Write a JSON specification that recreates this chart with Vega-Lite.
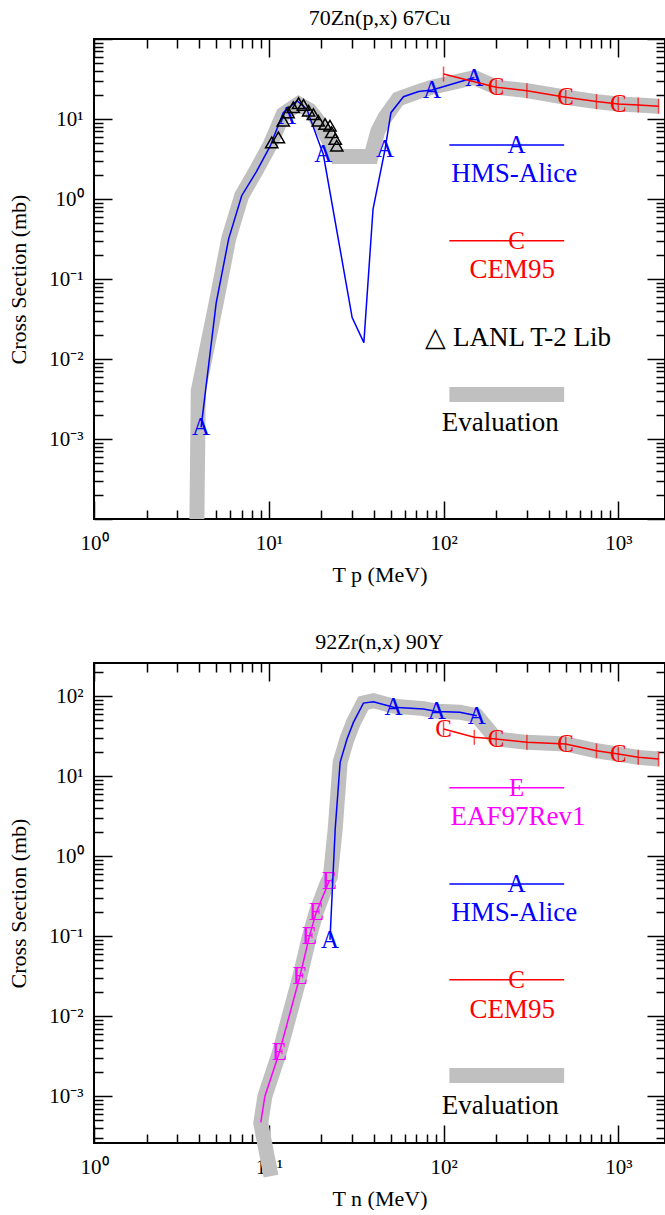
{
  "$schema": "https://vega.github.io/schema/vega-lite/v6.json",
  "padding": {"left": 6, "top": 6, "right": 0, "bottom": 0},
  "spacing": 44,
  "config": {
    "font": "Liberation Serif",
    "view": {"stroke": "black", "strokeWidth": 2},
    "text": {"font": "Liberation Serif"},
    "axis": {"labelFont": "Liberation Serif", "titleFont": "Liberation Serif", "titleFontWeight": "normal", "labelColor": "black", "titleColor": "black", "tickColor": "black", "grid": false, "domain": false, "labelFlush": false, "labelOverlap": false, "labelBound": false},
    "title": {"font": "Liberation Serif", "fontSize": 22, "fontWeight": "normal", "color": "black", "anchor": "middle", "baseline": "alphabetic", "offset": 8}
  },
  "datasets": {
    "zn_eval": [
      {"g":"c","x":3.88,"y":0.0001},{"g":"c","x":3.95,"y":0.004},{"g":"c","x":5.0,"y":0.05},{"g":"c","x":5.9,"y":0.32},{"g":"c","x":7.0,"y":1.1},{"g":"c","x":8.5,"y":2.3},{"g":"c","x":10.2,"y":4.8},{"g":"c","x":12.1,"y":11.5},{"g":"c","x":14.8,"y":15.5},{"g":"c","x":17.2,"y":12.8},{"g":"c","x":19.7,"y":8.7},{"g":"c","x":21.5,"y":6.0},{"g":"c","x":24.5,"y":3.4},{"g":"c","x":38.5,"y":3.4},{"g":"c","x":42,"y":7},{"g":"c","x":46.3,"y":10.5},{"g":"c","x":55,"y":17.8},{"g":"c","x":73.5,"y":22.4},{"g":"c","x":86,"y":25},{"g":"c","x":150,"y":33},{"g":"c","x":200,"y":25},{"g":"c","x":300,"y":22.6},{"g":"c","x":500,"y":18.7},{"g":"c","x":750,"y":16.5},{"g":"c","x":1000,"y":15.4},{"g":"c","x":1300,"y":15},{"g":"c","x":1700,"y":14.4},
      {"g":"l","x":108,"y":0.0036},{"g":"l","x":490,"y":0.0036}
    ],
    "zn_hms": [
      {"g":"c","x":4.1,"y":0.0014},{"g":"c","x":5.0,"y":0.05},{"g":"c","x":5.9,"y":0.32},{"g":"c","x":7.0,"y":1.1},{"g":"c","x":8.5,"y":2.2},{"g":"c","x":10.2,"y":4.6},{"g":"c","x":12.1,"y":12},{"g":"c","x":14.5,"y":16.9},{"g":"c","x":16.5,"y":13.3},{"g":"c","x":19.7,"y":4.6},{"g":"c","x":20.5,"y":3.65},{"g":"c","x":30,"y":0.033},{"g":"c","x":35,"y":0.016},{"g":"c","x":39.5,"y":0.75},{"g":"c","x":46.3,"y":4.2},{"g":"c","x":50,"y":12},{"g":"c","x":59,"y":19},{"g":"c","x":72,"y":22},{"g":"c","x":86,"y":23},{"g":"c","x":150,"y":33},
      {"g":"l","x":108,"y":4.73},{"g":"l","x":490,"y":4.73}
    ],
    "zn_hmsA": [
      {"x":4.1,"y":0.0014},{"x":12.7,"y":11},{"x":20.5,"y":3.65},{"x":46.3,"y":4.2},{"x":86,"y":23},{"x":150,"y":33},{"x":262,"y":4.73}
    ],
    "zn_cem": [
      {"g":"c","x":100,"y":36.5},{"g":"c","x":200,"y":25},{"g":"c","x":300,"y":22.6},{"g":"c","x":500,"y":18.7},{"g":"c","x":750,"y":16.5},{"g":"c","x":1000,"y":15.4},{"g":"c","x":1300,"y":15},{"g":"c","x":1700,"y":14.4},
      {"g":"l","x":108,"y":0.301},{"g":"l","x":490,"y":0.301}
    ],
    "zn_cemC": [
      {"x":200,"y":25},{"x":500,"y":18.7},{"x":1000,"y":15.4},{"x":262,"y":0.301}
    ],
    "zn_lanl": [
      {"x":10.4,"y":5.11},{"x":11.35,"y":5.9},{"x":12.1,"y":9.5},{"x":12.9,"y":12.1},{"x":13.8,"y":14.0},{"x":14.8,"y":15.8},{"x":15.8,"y":15.0},{"x":16.9,"y":12.7},{"x":18.0,"y":11.5},{"x":19.2,"y":9.5},{"x":21.0,"y":8.66},{"x":22.4,"y":8.25},{"x":22.9,"y":6.82},{"x":24.0,"y":5.62},{"x":24.5,"y":4.64}
    ],
    "zn_text": [
      {"s":"HMS-Alice","label":"HMS-Alice","x":254,"y":2.05},
      {"s":"CEM95","label":"CEM95","x":247,"y":0.1296},
      {"s":"LANL","label":"△ LANL T-2 Lib","x":267,"y":0.0183},
      {"s":"Evaluation","label":"Evaluation","x":211,"y":0.00158}
    ],
    "zr_eval": [
      {"g":"c","x":10.3,"y":0.0001},{"g":"c","x":9.0,"y":0.00046},{"g":"c","x":9.5,"y":0.001},{"g":"c","x":11.5,"y":0.0035},{"g":"c","x":15.1,"y":0.032},{"g":"c","x":17.1,"y":0.1},{"g":"c","x":18.7,"y":0.2},{"g":"c","x":21.5,"y":0.45},{"g":"c","x":22.5,"y":0.55},{"g":"c","x":24,"y":2.2},{"g":"c","x":25.6,"y":14.9},{"g":"c","x":28,"y":29},{"g":"c","x":30.5,"y":47},{"g":"c","x":34.8,"y":82},{"g":"c","x":39.7,"y":88},{"g":"c","x":51.7,"y":75},{"g":"c","x":76.7,"y":70},{"g":"c","x":91.5,"y":65},{"g":"c","x":124,"y":63},{"g":"c","x":155,"y":57},{"g":"c","x":200,"y":29.2},{"g":"c","x":300,"y":26.5},{"g":"c","x":500,"y":25.3},{"g":"c","x":750,"y":20.8},{"g":"c","x":1000,"y":18.9},{"g":"c","x":1300,"y":17.2},{"g":"c","x":1700,"y":16.4},
      {"g":"l","x":108,"y":0.001815},{"g":"l","x":490,"y":0.001815}
    ],
    "zr_eaf": [
      {"g":"c","x":9.0,"y":0.00047},{"g":"c","x":9.5,"y":0.001},{"g":"c","x":11.5,"y":0.00354},{"g":"c","x":15.1,"y":0.032},{"g":"c","x":17.1,"y":0.101},{"g":"c","x":18.7,"y":0.199},{"g":"c","x":22.2,"y":0.494},
      {"g":"l","x":108,"y":7.18},{"g":"l","x":490,"y":7.18}
    ],
    "zr_eafE": [
      {"x":11.5,"y":0.00354},{"x":15.1,"y":0.032},{"x":17.1,"y":0.101},{"x":18.7,"y":0.199},{"x":22.2,"y":0.494},{"x":262,"y":7.18}
    ],
    "zr_hms": [
      {"g":"c","x":22.4,"y":0.09},{"g":"c","x":24,"y":2.2},{"g":"c","x":25.6,"y":14.9},{"g":"c","x":28,"y":29},{"g":"c","x":30.5,"y":47},{"g":"c","x":34.8,"y":82},{"g":"c","x":39.7,"y":85},{"g":"c","x":51.7,"y":73},{"g":"c","x":76.7,"y":69},{"g":"c","x":91.5,"y":64.5},{"g":"c","x":124,"y":63},{"g":"c","x":155,"y":57},
      {"g":"l","x":108,"y":0.449},{"g":"l","x":490,"y":0.449}
    ],
    "zr_hmsA": [
      {"x":22.4,"y":0.09},{"x":51.7,"y":73},{"x":91.5,"y":64.5},{"x":155,"y":57},{"x":262,"y":0.449}
    ],
    "zr_cem": [
      {"g":"c","x":100,"y":38.9},{"g":"c","x":150,"y":30.6},{"g":"c","x":200,"y":29.2},{"g":"c","x":300,"y":26.5},{"g":"c","x":500,"y":25.3},{"g":"c","x":750,"y":20.8},{"g":"c","x":1000,"y":18.9},{"g":"c","x":1300,"y":17.2},{"g":"c","x":1700,"y":16.4},
      {"g":"l","x":108,"y":0.0286},{"g":"l","x":490,"y":0.0286}
    ],
    "zr_cemC": [
      {"x":100,"y":38.9},{"x":200,"y":29.2},{"x":500,"y":25.3},{"x":1000,"y":18.9},{"x":262,"y":0.0286}
    ],
    "zr_text": [
      {"s":"EAF97Rev1","label":"EAF97Rev1","x":267,"y":3.09},
      {"s":"HMS-Alice","label":"HMS-Alice","x":254,"y":0.195},
      {"s":"CEM95","label":"CEM95","x":247,"y":0.01195},
      {"s":"Evaluation","label":"Evaluation","x":211,"y":0.000754}
    ]
  },
  "vconcat": [
    {
      "title": {"text": "70Zn(p,x) 67Cu"},
      "width": 571,
      "height": 480,
      "resolve": {"axis": {"x": "independent", "y": "independent"}},
      "layer": [
        {
          "data": {"name": "zn_eval"},
          "mark": {"type": "line", "color": "#c0c0c0", "strokeWidth": 15},
          "encoding": {
            "x": {"field": "x", "type": "quantitative", "scale": {"type": "log", "domain": [1, 1850]},
                  "axis": {"orient": "bottom", "values": [1, 10, 100, 1000], "ticks": false, "labelFontSize": 21, "labelPadding": 13,
                           "labelExpr": "datum.value < 5 ? '10⁰' : datum.value < 50 ? '10¹' : datum.value < 500 ? '10²' : '10³'",
                           "title": "T p (MeV)", "titleFontSize": 22, "titlePadding": 11}},
            "y": {"field": "y", "type": "quantitative", "scale": {"type": "log", "domain": [0.0001, 100]},
                  "axis": {"orient": "left", "values": [0.001, 0.01, 0.1, 1, 10], "ticks": false, "labelFontSize": 21, "labelPadding": 11, "labelBaseline": "middle",
                           "labelExpr": "datum.value < 0.005 ? '10⁻³' : datum.value < 0.05 ? '10⁻²' : datum.value < 0.5 ? '10⁻¹' : datum.value < 5 ? '10⁰' : datum.value < 50 ? '10¹' : '10²'",
                           "title": "Cross Section (mb)", "titleFontSize": 22, "titlePadding": 18}},
            "detail": {"field": "g"},
            "order": {"value": null}
          }
        },
        {
          "data": {"name": "zn_hms"},
          "mark": {"type": "line", "color": "#0000ff", "strokeWidth": 1.5},
          "encoding": {
            "x": {"field": "x", "type": "quantitative", "scale": {"type": "log", "domain": [1, 1850]},
                  "axis": {"orient": "bottom", "values": [1, 10, 100, 1000], "tickSize": -18, "tickWidth": 1.5, "labels": false, "title": null}},
            "y": {"field": "y", "type": "quantitative", "scale": {"type": "log", "domain": [0.0001, 100]},
                  "axis": {"orient": "left", "values": [0.0001, 0.001, 0.01, 0.1, 1, 10, 100], "tickSize": -18, "tickWidth": 1.5, "labels": false, "title": null}},
            "detail": {"field": "g"},
            "order": {"value": null}
          }
        },
        {
          "data": {"name": "zn_hmsA"},
          "mark": {"type": "text", "text": "A", "color": "#0000ff", "font": "Liberation Serif", "fontSize": 25, "baseline": "middle", "align": "center"},
          "encoding": {
            "x": {"field": "x", "type": "quantitative", "scale": {"type": "log", "domain": [1, 1850]},
                  "axis": {"orient": "bottom", "values": [2,3,4,5,6,7,8,9,20,30,40,50,60,70,80,90,200,300,400,500,600,700,800,900], "tickSize": -9, "tickWidth": 1.5, "labels": false, "title": null}},
            "y": {"field": "y", "type": "quantitative", "scale": {"type": "log", "domain": [0.0001, 100]},
                  "axis": {"orient": "left", "values": [0.0002,0.0003,0.0004,0.0005,0.0006,0.0007,0.0008,0.0009,0.002,0.003,0.004,0.005,0.006,0.007,0.008,0.009,0.02,0.03,0.04,0.05,0.06,0.07,0.08,0.09,0.2,0.3,0.4,0.5,0.6,0.7,0.8,0.9,2,3,4,5,6,7,8,9,20,30,40,50,60,70,80,90], "tickSize": -9, "tickWidth": 1.5, "labels": false, "title": null}}
          }
        },
        {
          "data": {"name": "zn_cem"},
          "mark": {"type": "line", "color": "#ff0000", "strokeWidth": 1.5},
          "encoding": {
            "x": {"field": "x", "type": "quantitative", "scale": {"type": "log", "domain": [1, 1850]},
                  "axis": {"orient": "top", "values": [1, 10, 100, 1000], "tickSize": -18, "tickWidth": 1.5, "labels": false, "title": null}},
            "y": {"field": "y", "type": "quantitative", "scale": {"type": "log", "domain": [0.0001, 100]},
                  "axis": {"orient": "right", "values": [0.0001, 0.001, 0.01, 0.1, 1, 10, 100], "tickSize": -18, "tickWidth": 1.5, "labels": false, "title": null}},
            "detail": {"field": "g"},
            "order": {"value": null}
          }
        },
        {
          "data": {"name": "zn_cem"},
          "transform": [{"filter": "datum.g === 'c'"}],
          "mark": {"type": "tick", "orient": "vertical", "color": "#ff0000", "size": 15, "thickness": 1.5},
          "encoding": {
            "x": {"field": "x", "type": "quantitative", "scale": {"type": "log", "domain": [1, 1850]},
                  "axis": {"orient": "top", "values": [2,3,4,5,6,7,8,9,20,30,40,50,60,70,80,90,200,300,400,500,600,700,800,900], "tickSize": -9, "tickWidth": 1.5, "labels": false, "title": null}},
            "y": {"field": "y", "type": "quantitative", "scale": {"type": "log", "domain": [0.0001, 100]},
                  "axis": {"orient": "right", "values": [0.0002,0.0003,0.0004,0.0005,0.0006,0.0007,0.0008,0.0009,0.002,0.003,0.004,0.005,0.006,0.007,0.008,0.009,0.02,0.03,0.04,0.05,0.06,0.07,0.08,0.09,0.2,0.3,0.4,0.5,0.6,0.7,0.8,0.9,2,3,4,5,6,7,8,9,20,30,40,50,60,70,80,90], "tickSize": -9, "tickWidth": 1.5, "labels": false, "title": null}}
          }
        },
        {
          "data": {"name": "zn_cemC"},
          "mark": {"type": "text", "text": "C", "color": "#ff0000", "font": "Liberation Serif", "fontSize": 25, "baseline": "middle", "align": "center"},
          "encoding": {
            "x": {"field": "x", "type": "quantitative", "scale": {"type": "log", "domain": [1, 1850]}, "axis": null},
            "y": {"field": "y", "type": "quantitative", "scale": {"type": "log", "domain": [0.0001, 100]}, "axis": null}
          }
        },
        {
          "data": {"name": "zn_lanl"},
          "mark": {"type": "point", "shape": "triangle-up", "filled": false, "stroke": "black", "strokeWidth": 1.5, "size": 150, "opacity": 1},
          "encoding": {
            "x": {"field": "x", "type": "quantitative", "scale": {"type": "log", "domain": [1, 1850]}, "axis": null},
            "y": {"field": "y", "type": "quantitative", "scale": {"type": "log", "domain": [0.0001, 100]}, "axis": null}
          }
        },
        {
          "data": {"name": "zn_text"},
          "mark": {"type": "text", "font": "Liberation Serif", "fontSize": 27, "baseline": "middle", "align": "center"},
          "encoding": {
            "x": {"field": "x", "type": "quantitative", "scale": {"type": "log", "domain": [1, 1850]}, "axis": null},
            "y": {"field": "y", "type": "quantitative", "scale": {"type": "log", "domain": [0.0001, 100]}, "axis": null},
            "text": {"field": "label"},
            "color": {"field": "s", "type": "nominal", "legend": null,
                      "scale": {"domain": ["HMS-Alice", "CEM95", "LANL", "Evaluation", "EAF97Rev1"], "range": ["#0000ff", "#ff0000", "#000000", "#000000", "#ff00ff"]}}
          }
        }
      ]
    },
    {
      "title": {"text": "92Zr(n,x) 90Y"},
      "width": 571,
      "height": 480,
      "resolve": {"axis": {"x": "independent", "y": "independent"}},
      "layer": [
        {
          "data": {"name": "zr_eval"},
          "mark": {"type": "line", "color": "#c0c0c0", "strokeWidth": 15},
          "encoding": {
            "x": {"field": "x", "type": "quantitative", "scale": {"type": "log", "domain": [1, 1850]},
                  "axis": {"orient": "bottom", "values": [1, 10, 100, 1000], "ticks": false, "labelFontSize": 21, "labelPadding": 13,
                           "labelExpr": "datum.value < 5 ? '10⁰' : datum.value < 50 ? '10¹' : datum.value < 500 ? '10²' : '10³'",
                           "title": "T n (MeV)", "titleFontSize": 22, "titlePadding": 11}},
            "y": {"field": "y", "type": "quantitative", "scale": {"type": "log", "domain": [0.00026, 260]},
                  "axis": {"orient": "left", "values": [0.001, 0.01, 0.1, 1, 10, 100], "ticks": false, "labelFontSize": 21, "labelPadding": 11, "labelBaseline": "middle",
                           "labelExpr": "datum.value < 0.005 ? '10⁻³' : datum.value < 0.05 ? '10⁻²' : datum.value < 0.5 ? '10⁻¹' : datum.value < 5 ? '10⁰' : datum.value < 50 ? '10¹' : '10²'",
                           "title": "Cross Section (mb)", "titleFontSize": 22, "titlePadding": 18}},
            "detail": {"field": "g"},
            "order": {"value": null}
          }
        },
        {
          "data": {"name": "zr_eaf"},
          "mark": {"type": "line", "color": "#ff00ff", "strokeWidth": 1.5},
          "encoding": {
            "x": {"field": "x", "type": "quantitative", "scale": {"type": "log", "domain": [1, 1850]},
                  "axis": {"orient": "bottom", "values": [1, 10, 100, 1000], "tickSize": -18, "tickWidth": 1.5, "labels": false, "title": null}},
            "y": {"field": "y", "type": "quantitative", "scale": {"type": "log", "domain": [0.00026, 260]},
                  "axis": {"orient": "left", "values": [0.001, 0.01, 0.1, 1, 10, 100], "tickSize": -18, "tickWidth": 1.5, "labels": false, "title": null}},
            "detail": {"field": "g"},
            "order": {"value": null}
          }
        },
        {
          "data": {"name": "zr_eafE"},
          "mark": {"type": "text", "text": "E", "color": "#ff00ff", "font": "Liberation Serif", "fontSize": 25, "baseline": "middle", "align": "center"},
          "encoding": {
            "x": {"field": "x", "type": "quantitative", "scale": {"type": "log", "domain": [1, 1850]},
                  "axis": {"orient": "bottom", "values": [2,3,4,5,6,7,8,9,20,30,40,50,60,70,80,90,200,300,400,500,600,700,800,900], "tickSize": -9, "tickWidth": 1.5, "labels": false, "title": null}},
            "y": {"field": "y", "type": "quantitative", "scale": {"type": "log", "domain": [0.00026, 260]},
                  "axis": {"orient": "left", "values": [0.0003,0.0004,0.0005,0.0006,0.0007,0.0008,0.0009,0.002,0.003,0.004,0.005,0.006,0.007,0.008,0.009,0.02,0.03,0.04,0.05,0.06,0.07,0.08,0.09,0.2,0.3,0.4,0.5,0.6,0.7,0.8,0.9,2,3,4,5,6,7,8,9,20,30,40,50,60,70,80,90,200], "tickSize": -9, "tickWidth": 1.5, "labels": false, "title": null}}
          }
        },
        {
          "data": {"name": "zr_hms"},
          "mark": {"type": "line", "color": "#0000ff", "strokeWidth": 1.5},
          "encoding": {
            "x": {"field": "x", "type": "quantitative", "scale": {"type": "log", "domain": [1, 1850]},
                  "axis": {"orient": "top", "values": [1, 10, 100, 1000], "tickSize": -18, "tickWidth": 1.5, "labels": false, "title": null}},
            "y": {"field": "y", "type": "quantitative", "scale": {"type": "log", "domain": [0.00026, 260]},
                  "axis": {"orient": "right", "values": [0.001, 0.01, 0.1, 1, 10, 100], "tickSize": -18, "tickWidth": 1.5, "labels": false, "title": null}},
            "detail": {"field": "g"},
            "order": {"value": null}
          }
        },
        {
          "data": {"name": "zr_hmsA"},
          "mark": {"type": "text", "text": "A", "color": "#0000ff", "font": "Liberation Serif", "fontSize": 25, "baseline": "middle", "align": "center"},
          "encoding": {
            "x": {"field": "x", "type": "quantitative", "scale": {"type": "log", "domain": [1, 1850]},
                  "axis": {"orient": "top", "values": [2,3,4,5,6,7,8,9,20,30,40,50,60,70,80,90,200,300,400,500,600,700,800,900], "tickSize": -9, "tickWidth": 1.5, "labels": false, "title": null}},
            "y": {"field": "y", "type": "quantitative", "scale": {"type": "log", "domain": [0.00026, 260]},
                  "axis": {"orient": "right", "values": [0.0003,0.0004,0.0005,0.0006,0.0007,0.0008,0.0009,0.002,0.003,0.004,0.005,0.006,0.007,0.008,0.009,0.02,0.03,0.04,0.05,0.06,0.07,0.08,0.09,0.2,0.3,0.4,0.5,0.6,0.7,0.8,0.9,2,3,4,5,6,7,8,9,20,30,40,50,60,70,80,90,200], "tickSize": -9, "tickWidth": 1.5, "labels": false, "title": null}}
          }
        },
        {
          "data": {"name": "zr_cem"},
          "mark": {"type": "line", "color": "#ff0000", "strokeWidth": 1.5},
          "encoding": {
            "x": {"field": "x", "type": "quantitative", "scale": {"type": "log", "domain": [1, 1850]}, "axis": null},
            "y": {"field": "y", "type": "quantitative", "scale": {"type": "log", "domain": [0.00026, 260]}, "axis": null},
            "detail": {"field": "g"},
            "order": {"value": null}
          }
        },
        {
          "data": {"name": "zr_cem"},
          "transform": [{"filter": "datum.g === 'c'"}],
          "mark": {"type": "tick", "orient": "vertical", "color": "#ff0000", "size": 15, "thickness": 1.5},
          "encoding": {
            "x": {"field": "x", "type": "quantitative", "scale": {"type": "log", "domain": [1, 1850]}, "axis": null},
            "y": {"field": "y", "type": "quantitative", "scale": {"type": "log", "domain": [0.00026, 260]}, "axis": null}
          }
        },
        {
          "data": {"name": "zr_cemC"},
          "mark": {"type": "text", "text": "C", "color": "#ff0000", "font": "Liberation Serif", "fontSize": 25, "baseline": "middle", "align": "center"},
          "encoding": {
            "x": {"field": "x", "type": "quantitative", "scale": {"type": "log", "domain": [1, 1850]}, "axis": null},
            "y": {"field": "y", "type": "quantitative", "scale": {"type": "log", "domain": [0.00026, 260]}, "axis": null}
          }
        },
        {
          "data": {"name": "zr_text"},
          "mark": {"type": "text", "font": "Liberation Serif", "fontSize": 27, "baseline": "middle", "align": "center"},
          "encoding": {
            "x": {"field": "x", "type": "quantitative", "scale": {"type": "log", "domain": [1, 1850]}, "axis": null},
            "y": {"field": "y", "type": "quantitative", "scale": {"type": "log", "domain": [0.00026, 260]}, "axis": null},
            "text": {"field": "label"},
            "color": {"field": "s", "type": "nominal", "legend": null,
                      "scale": {"domain": ["HMS-Alice", "CEM95", "LANL", "Evaluation", "EAF97Rev1"], "range": ["#0000ff", "#ff0000", "#000000", "#000000", "#ff00ff"]}}
          }
        }
      ]
    }
  ]
}
